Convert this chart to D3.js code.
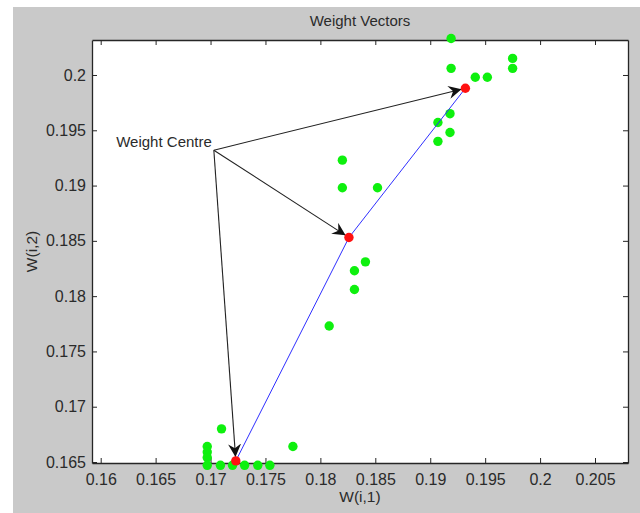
<!DOCTYPE html>
<html>
<head>
<meta charset="utf-8">
<script src="https://cdn.jsdelivr.net/npm/d3@7"></script>
<style>
  body { margin: 0; background: #fff; }
  text { font-family: "Liberation Sans", Arial, sans-serif; fill: #2b2b2b; }
</style>
</head>
<body>
<div id="chart"></div>
<script>
// weight vectors (green)
const greenX = [0.1919, 0.1919, 0.1941, 0.1952, 0.1975, 0.1975,
  0.1918, 0.1907, 0.1918, 0.1907,
  0.1820, 0.1820, 0.1852, 0.1841, 0.1831, 0.1831, 0.1808,
  0.1710, 0.1697, 0.1697, 0.1697, 0.1697, 0.1709, 0.1720, 0.1731, 0.1743, 0.1754, 0.1775]
const greenY = [0.2033, 0.2006, 0.1998, 0.1998, 0.2015, 0.2006,
  0.1965, 0.1957, 0.1948, 0.1940,
  0.1923, 0.1898, 0.1898, 0.1831, 0.1823, 0.1806, 0.1773,
  0.1680, 0.1664, 0.1659, 0.1654, 0.1647, 0.1647, 0.1647, 0.1647, 0.1647, 0.1647, 0.1664]
// cluster centres (red), joined by the blue line
const redX = [0.1723, 0.1826, 0.1932]
const redY = [0.1651, 0.1853, 0.1988]
// annotation origin
const centreX = 0.1703
const centreY = 0.1932
const centreLabel = 'Weight Centre'

const xTicks = [0.16, 0.165, 0.17, 0.175, 0.18, 0.185, 0.19, 0.195, 0.2, 0.205]
const yTicks = [0.165, 0.17, 0.175, 0.18, 0.185, 0.19, 0.195, 0.2]

const W = 640, H = 513
const margin = { top: 40, right: 12, bottom: 50, left: 92 }

const svg = d3.select('#chart').append('svg')
  .attr('width', W)
  .attr('height', H)

// figure background
svg.append('rect')
  .attr('x', 13).attr('y', 7)
  .attr('width', W - 13).attr('height', H - 7)
  .attr('fill', '#c9c9c9')

const x = d3.scaleLinear().domain([0.159208, 0.208004]).range([margin.left, W - margin.right])
const y = d3.scaleLinear().domain([0.16491, 0.203165]).range([H - margin.bottom, margin.top])

const x0 = x.range()[0], x1 = x.range()[1]
const y0 = y.range()[0], y1 = y.range()[1]

svg.append('rect')
  .attr('x', x0).attr('y', y1)
  .attr('width', x1 - x0).attr('height', y0 - y1)
  .attr('fill', '#fff')

const fmt = d => String(+d.toFixed(3))

// axes (ticks pointing inwards, box on all sides)
const gx = svg.append('g').attr('transform', `translate(0,${y0})`)
  .call(d3.axisBottom(x).tickValues(xTicks).tickFormat(fmt).tickSize(-5).tickSizeOuter(0).tickPadding(11))
const gxt = svg.append('g').attr('transform', `translate(0,${y1})`)
  .call(d3.axisTop(x).tickValues(xTicks).tickFormat('').tickSize(-5).tickSizeOuter(0))
const gy = svg.append('g').attr('transform', `translate(${x0},0)`)
  .call(d3.axisLeft(y).tickValues(yTicks).tickFormat(fmt).tickSize(-5).tickSizeOuter(0).tickPadding(6))
const gyr = svg.append('g').attr('transform', `translate(${x1},0)`)
  .call(d3.axisRight(y).tickValues(yTicks).tickFormat('').tickSize(-5).tickSizeOuter(0))

;[gx, gxt, gy, gyr].forEach(g => {
  g.selectAll('path').attr('stroke', '#262626').attr('stroke-width', 1.3)
  g.selectAll('line').attr('stroke', '#262626')
  g.selectAll('text').attr('font-size', 16).attr('fill', '#2b2b2b')
    .style('font-family', '"Liberation Sans", Arial, sans-serif')
})

// titles
svg.append('text')
  .attr('x', (x0 + x1) / 2).attr('y', 26)
  .attr('text-anchor', 'middle').attr('font-size', 15)
  .text('Weight Vectors')
svg.append('text')
  .attr('x', (x0 + x1) / 2).attr('y', 502)
  .attr('text-anchor', 'middle').attr('font-size', 15.5)
  .text('W(i,1)')
svg.append('text')
  .attr('transform', `translate(37,${(y0 + y1) / 2}) rotate(-90)`)
  .attr('text-anchor', 'middle').attr('font-size', 15.5)
  .text('W(i,2)')

// green points
svg.append('g').selectAll('circle')
  .data(greenX.map((d, i) => [d, greenY[i]]))
  .enter().append('circle')
  .attr('cx', d => x(d[0]))
  .attr('cy', d => y(d[1]))
  .attr('r', 4.7)
  .attr('fill', '#0ef00e')

// blue line through the centres
const line = d3.line().x(d => x(d[0])).y(d => y(d[1]))
const reds = redX.map((d, i) => [d, redY[i]])
svg.append('path')
  .attr('d', line(reds))
  .attr('fill', 'none')
  .attr('stroke', '#2f2fff')
  .attr('stroke-width', 1)

// arrows from the label to each centre
const defs = svg.append('defs')
defs.append('marker')
  .attr('id', 'head')
  .attr('viewBox', '0 0 12 12')
  .attr('refX', 12).attr('refY', 6)
  .attr('markerWidth', 13).attr('markerHeight', 13)
  .attr('markerUnits', 'userSpaceOnUse')
  .attr('orient', 'auto')
  .append('path')
  .attr('d', 'M0,0 L12,6 L0,12 L4,6 Z')
  .attr('fill', '#111')

const cx = x(centreX), cy = y(centreY)
svg.append('g').selectAll('line')
  .data(reds)
  .enter().append('line')
  .attr('x1', cx).attr('y1', cy)
  .attr('x2', d => {
    const dx = x(d[0]) - cx, dy = y(d[1]) - cy, len = Math.hypot(dx, dy)
    return x(d[0]) - dx / len * 4
  })
  .attr('y2', d => {
    const dx = x(d[0]) - cx, dy = y(d[1]) - cy, len = Math.hypot(dx, dy)
    return y(d[1]) - dy / len * 4
  })
  .attr('stroke', '#222')
  .attr('stroke-width', 1.1)
  .attr('marker-end', 'url(#head)')

// red centres
svg.append('g').selectAll('circle')
  .data(reds)
  .enter().append('circle')
  .attr('cx', d => x(d[0]))
  .attr('cy', d => y(d[1]))
  .attr('r', 4.7)
  .attr('fill', '#ff1111')

svg.append('text')
  .attr('x', cx - 2).attr('y', cy - 3)
  .attr('text-anchor', 'end').attr('font-size', 15)
  .text(centreLabel)
</script>
</body>
</html>
